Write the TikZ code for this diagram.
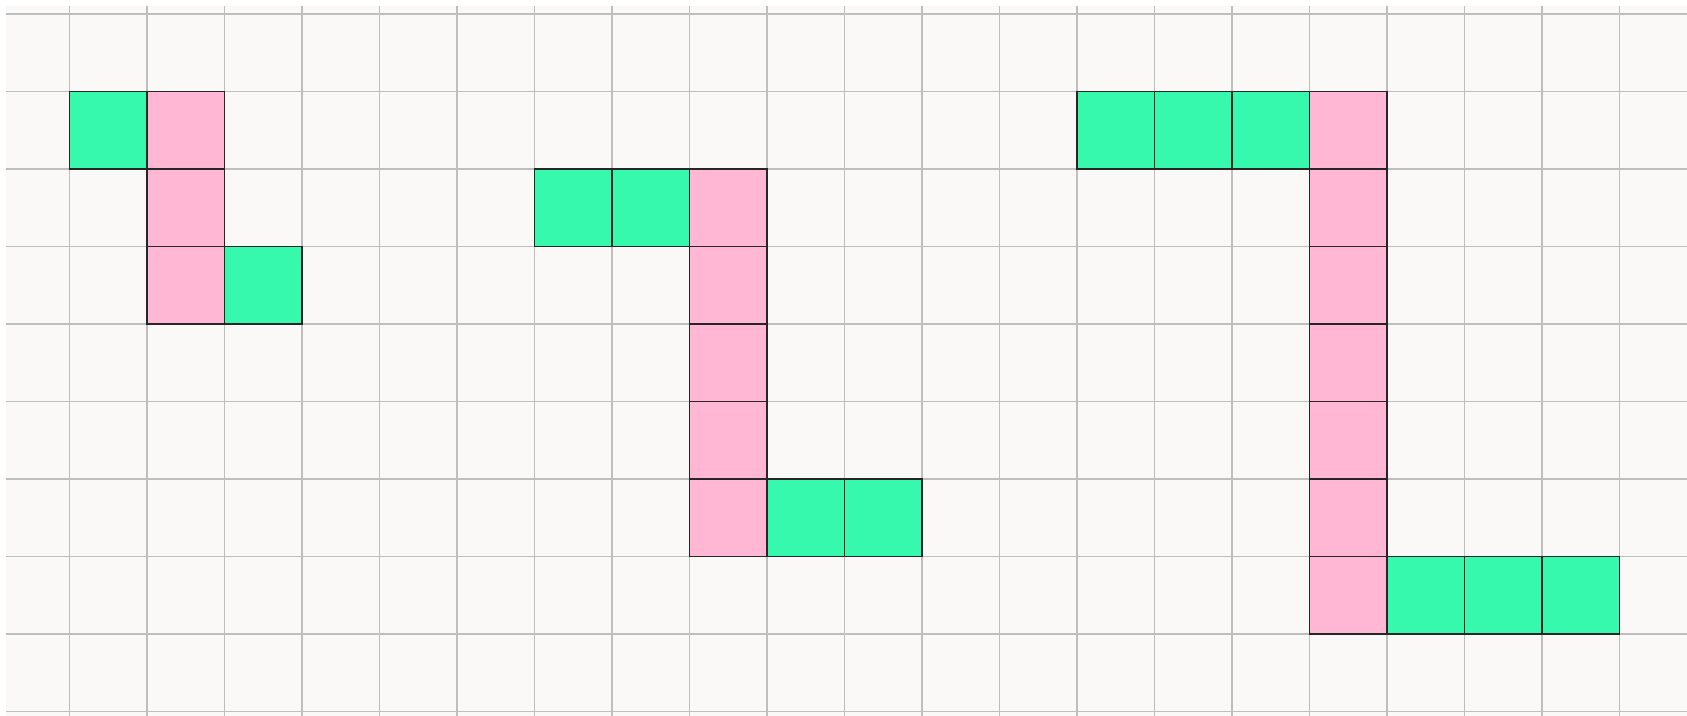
\documentclass[tikz,border=0pt]{standalone}
\usepackage{xcolor}
\definecolor{paper}{HTML}{FAF9F8}
\definecolor{gridgray}{HTML}{BEBEBE}
\definecolor{mint}{HTML}{36F9AE}
\definecolor{blush}{HTML}{FFB7D4}
\begin{document}
\begin{tikzpicture}[
  gridline/.style={draw=gridgray,line width=0.55pt},
  gcell/.style={draw=black!85,fill=mint,line width=0.55pt},
  pcell/.style={draw=black!85,fill=blush,line width=0.55pt}
]

% ---- page and grid ----
\useasboundingbox (-0.8968,0.1806) rectangle (20.871,-9.058);
\fill[white] (-0.8968,0.1806) rectangle (20.871,-9.058);
\fill[paper] (-0.8194,0.1032) rectangle (20.871,-9.058);
\foreach \x in {0,...,20}
  \draw[gridline] (\x,0.1032) -- (\x,-9.058);
\foreach \y in {0,...,9}
  \draw[gridline] (-0.8194,-\y) -- (20.871,-\y);

% ---- first piece ----
\draw[gcell] (0,-1) rectangle ++(1,-1);
\foreach \r in {1,2,3}
  \draw[pcell] (1,-\r) rectangle ++(1,-1);
\draw[gcell] (2,-3) rectangle ++(1,-1);

% ---- second piece ----
\foreach \c in {6,7}
  \draw[gcell] (\c,-2) rectangle ++(1,-1);
\foreach \r in {2,...,6}
  \draw[pcell] (8,-\r) rectangle ++(1,-1);
\foreach \c in {9,10}
  \draw[gcell] (\c,-6) rectangle ++(1,-1);

% ---- third piece ----
\foreach \c in {13,14,15}
  \draw[gcell] (\c,-1) rectangle ++(1,-1);
\foreach \r in {1,...,7}
  \draw[pcell] (16,-\r) rectangle ++(1,-1);
\foreach \c in {17,18,19}
  \draw[gcell] (\c,-7) rectangle ++(1,-1);

\end{tikzpicture}
\end{document}
